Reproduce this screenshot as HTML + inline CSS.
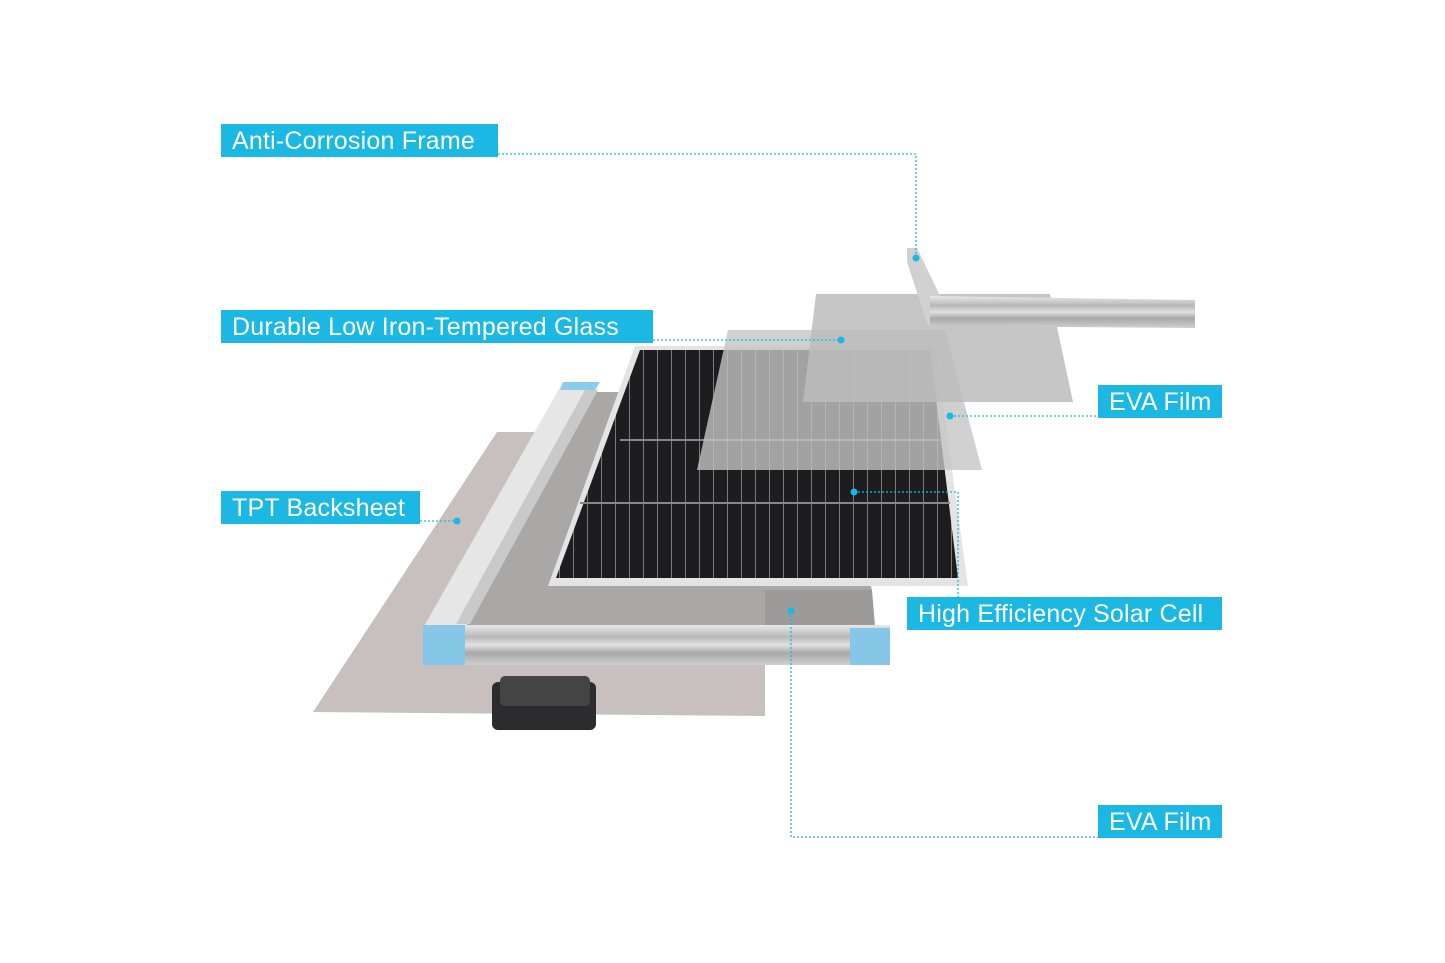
<!DOCTYPE html>
<html><head><meta charset="utf-8"><style>
html,body{margin:0;padding:0;background:#fff;}
body{width:1445px;height:963px;position:relative;overflow:hidden;font-family:"Liberation Sans",sans-serif;}
.lb{position:absolute;background:#1ab8e2;color:#fff;font-size:25px;line-height:34px;height:33px;padding:0 0 0 11px;box-sizing:border-box;white-space:nowrap;letter-spacing:0.2px}
svg{position:absolute;left:0;top:0}
</style></head><body>
<svg width="1445" height="963" viewBox="0 0 1445 963">
<defs>
<linearGradient id="rail" x1="0" y1="0" x2="0" y2="1">
<stop offset="0" stop-color="#e8e8e8"/><stop offset=".3" stop-color="#b8b8b8"/><stop offset=".5" stop-color="#e0e0e0"/><stop offset=".7" stop-color="#a8a8a8"/><stop offset="1" stop-color="#d0d0d0"/>
</linearGradient>
<pattern id="cells" width="14" height="300" patternUnits="userSpaceOnUse">
<rect width="14" height="300" fill="#1d1d1f"/><rect x="13" width="1" height="300" fill="#7a7a7a"/>
</pattern>
</defs>
<polygon points="497,432 700,432 765,590 765,716 313,712" fill="#c8c0bf"/>
<rect x="492" y="682" width="104" height="48" rx="6" fill="#2c2c2e"/>
<rect x="500" y="676" width="90" height="30" rx="5" fill="#444"/>
<polygon points="585,392 820,392 872,590 872,626 465,626" fill="#aaa7a7"/>
<polygon points="765,590 872,590 875,626 765,626" fill="#9d9a9a"/>
<polygon points="563,382 600,382 465,628 423,628" fill="#e6e6e6"/>
<polygon points="585,390 598,390 470,624 456,624" fill="#c9c9c9"/>
<polygon points="563,382 600,382 595,390 560,390" fill="#8ccce8"/>
<rect x="423" y="625" width="467" height="40" fill="url(#rail)"/>
<rect x="423" y="625" width="42" height="40" fill="#86c6e6"/>
<rect x="850" y="628" width="40" height="37" fill="#86c6e6"/>
<polygon points="635,346 935,346 968,586 548,586" fill="#e4e4e4"/>
<polygon points="640,350 930,350 958,578 556,578" fill="url(#cells)"/>
<line x1="620" y1="440" x2="940" y2="440" stroke="#888" stroke-width="2"/>
<line x1="580" y1="503" x2="950" y2="503" stroke="#888" stroke-width="2"/>
<polygon points="728,330 945,330 982,470 697,470" fill="#c4c4c4" fill-opacity="0.8"/>
<polygon points="816,294 1050,294 1073,402 803,402" fill="#bcbcbc" fill-opacity="0.85"/>
<polygon points="907,248 917,248 940,296 938,326 928,326 907,262" fill="#d0d0d0"/>
<polygon points="930,296 1195,300 1195,328 930,326" fill="url(#rail)"/>
<g stroke="#1ab8e2" stroke-width="1.3" stroke-dasharray="2,2" fill="none">
<polyline points="498,154 916,154 916,258"/>
<polyline points="653,340 841,340"/>
<polyline points="950,416 1098,416"/>
<polyline points="420,521 457,521"/>
<polyline points="854,492 958,492 958,597"/>
<polyline points="791,611 791,837 1098,837"/>
</g>
<g fill="#1ab8e2">
<circle cx="916" cy="258" r="3.5"/><circle cx="841" cy="340" r="3.5"/><circle cx="950" cy="416" r="3.5"/>
<circle cx="457" cy="521" r="3.5"/><circle cx="854" cy="492" r="3.5"/><circle cx="791" cy="611" r="3.5"/>
</g>
</svg>
<div class="lb" style="left:221px;top:124px;width:277px">Anti-Corrosion Frame</div>
<div class="lb" style="left:221px;top:310px;width:432px">Durable Low Iron-Tempered Glass</div>
<div class="lb" style="left:1098px;top:385px;width:124px">EVA Film</div>
<div class="lb" style="left:221px;top:491px;width:199px">TPT Backsheet</div>
<div class="lb" style="left:907px;top:597px;width:315px">High Efficiency Solar Cell</div>
<div class="lb" style="left:1098px;top:805px;width:124px">EVA Film</div>
</body></html>
